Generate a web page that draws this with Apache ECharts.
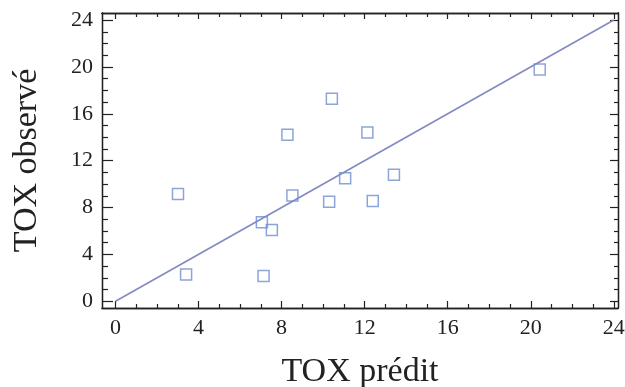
<!DOCTYPE html>
<html>
<head>
<meta charset="utf-8">
<script src="https://cdn.jsdelivr.net/npm/echarts@6/dist/echarts.min.js"></script>
<style>html,body{margin:0;padding:0;background:#fff}#c{width:625px;height:387px}</style>
</head>
<body>
<div id="c"></div>
<script>
// Data
const predicted = [3.40, 3.01, 7.05, 7.53, 7.13, 8.52, 8.28, 10.42, 10.29, 11.06, 12.13, 12.39, 13.41, 20.43];
const observed  = [2.29, 9.16, 6.74, 6.08, 2.17, 9.02, 14.21, 17.29, 8.50, 10.51, 14.41, 8.56, 10.79, 19.78];
const lineX = [0, 24];
const lineY = [0, 24];
const majorTicks = [0, 4, 8, 12, 16, 20, 24];
const minorTicks = [];
for (let i = 0; i <= 24; i++) if (i % 4 !== 0) minorTicks.push(i);
const xTitle = 'TOX prédit';
const yTitle = 'TOX observé';

const FONT = 'Liberation Serif';
const AX = '#222';
const xMin = -0.65, xMax = 24.2, yMin = -0.57, yMax = 24.6;

function xa(pos, ticks, len, opts) {
  return Object.assign({
    type: 'value', position: pos, min: xMin, max: xMax,
    axisLine: { show: true, onZero: false, lineStyle: { color: AX, width: 1.3 } },
    axisTick: { show: true, inside: true, length: len, customValues: ticks, lineStyle: { color: AX, width: 1.2 } },
    axisLabel: { show: false },
    splitLine: { show: false }
  }, opts || {});
}
function ya(pos, ticks, len, opts) {
  return Object.assign({
    type: 'value', position: pos, min: yMin, max: yMax,
    axisLine: { show: true, onZero: false, lineStyle: { color: AX, width: 1.3 } },
    axisTick: { show: true, inside: true, length: len, customValues: ticks, lineStyle: { color: AX, width: 1.2 } },
    axisLabel: { show: false },
    splitLine: { show: false }
  }, opts || {});
}

const chart = echarts.init(document.getElementById('c'), null, { renderer: 'canvas' });
chart.setOption({
  animation: false,
  backgroundColor: '#fff',
  grid: { left: 102, right: 7, top: 13, bottom: 79, containLabel: false, outerBoundsMode: 'none' },
  xAxis: [
    xa('bottom', majorTicks, 7, {
      axisLabel: { show: true, customValues: majorTicks, margin: 9, fontFamily: FONT, fontSize: 22, color: AX },
      name: xTitle, nameLocation: 'middle', nameGap: 47,
      nameTextStyle: { fontFamily: FONT, fontSize: 34, color: AX }
    }),
    xa('bottom', minorTicks, 4),
    xa('top', majorTicks, 6),
    xa('top', minorTicks, 4)
  ],
  yAxis: [
    ya('left', majorTicks, 11, {
      axisLabel: { show: true, customValues: majorTicks, margin: 9, fontFamily: FONT, fontSize: 22, color: AX },
      name: yTitle, nameLocation: 'middle', nameGap: 58, nameRotate: 90,
      nameTextStyle: { fontFamily: FONT, fontSize: 34, color: AX }
    }),
    ya('left', minorTicks, 6),
    ya('right', majorTicks, 8),
    ya('right', minorTicks, 4)
  ],
  series: [
    {
      type: 'line', xAxisIndex: 0, yAxisIndex: 0,
      data: lineX.map((x, i) => [x, lineY[i]]),
      showSymbol: false, symbol: 'none',
      lineStyle: { color: '#8389c2', width: 1.6 },
      z: 2
    },
    {
      type: 'scatter', xAxisIndex: 0, yAxisIndex: 0,
      data: predicted.map((x, i) => [x, observed[i]]),
      symbol: 'rect', symbolSize: 11,
      itemStyle: { color: 'rgba(255,255,255,0)', borderColor: '#6f8fcf', borderWidth: 1.5 },
      z: 3
    }
  ]
});
</script>
</body>
</html>
